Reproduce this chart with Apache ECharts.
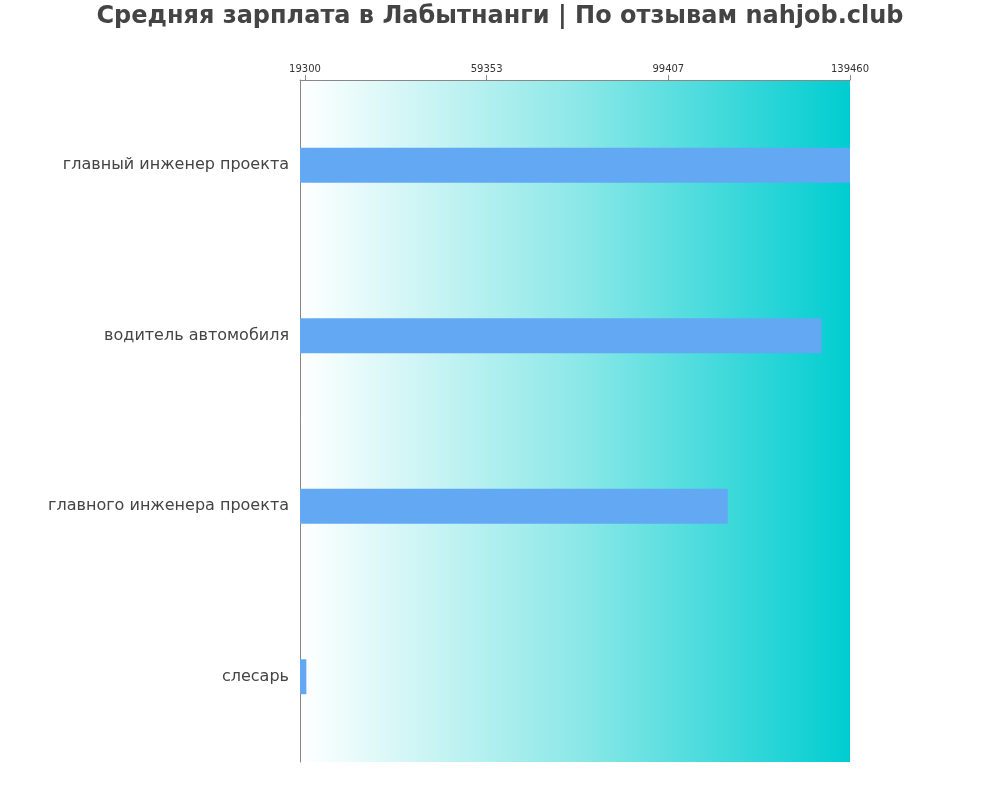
<!DOCTYPE html>
<html>
<head>
<meta charset="utf-8">
<script src="https://cdn.jsdelivr.net/npm/echarts@6/dist/echarts.min.js"></script>
<style>html,body{margin:0;padding:0;background:#fff;}#c{width:1000px;height:800px;}</style>
</head>
<body>
<div id="c"></div>
<script>
const titleText = 'Средняя зарплата в Лабытнанги | По отзывам nahjob.club';
const categories = ['главный инженер проекта', 'водитель автомобиля', 'главного инженера проекта', 'слесарь'];
const salaries = [139460, 133200, 112500, 19600];
const tickValues = [19300, 59353, 99407, 139460];
const axisMin = 18200;
const axisMax = 139460;

const chart = echarts.init(document.getElementById('c'));
chart.setOption({
  animation: false,
  backgroundColor: '#ffffff',
  title: {
    text: titleText,
    left: 'center',
    top: 0,
    textStyle: { fontFamily: '"DejaVu Sans"', fontWeight: 'bold', fontSize: 24, color: '#444444' }
  },
  grid: {
    left: 300, right: 150, top: 80, bottom: 38,
    show: true,
    borderWidth: 0,
    backgroundColor: new echarts.graphic.LinearGradient(0, 0, 1, 0, [
      { offset: 0, color: '#ffffff' },
      { offset: 0.5, color: '#8ee8e8' },
      { offset: 1, color: '#00cdd0' }
    ])
  },
  xAxis: {
    type: 'value',
    position: 'top',
    min: axisMin,
    max: axisMax,
    axisLine: { show: true, lineStyle: { color: '#888888', width: 1 } },
    axisTick: { show: true, length: 5, lineStyle: { color: '#888888' }, customValues: tickValues },
    axisLabel: { fontFamily: '"DejaVu Sans"', fontSize: 10, color: '#333333', margin: 6, customValues: tickValues, formatter: v => String(Math.round(v)) },
    splitLine: { show: false }
  },
  yAxis: {
    type: 'category',
    inverse: true,
    data: categories,
    axisLine: { show: true, lineStyle: { color: '#888888', width: 1 } },
    axisTick: { show: false },
    axisLabel: { fontFamily: '"DejaVu Sans"', fontSize: 16, color: '#444444', margin: 11, padding: [0, 0, 4, 0] }
  },
  series: [{
    type: 'bar',
    data: salaries,
    barWidth: 35,
    itemStyle: { color: '#62a8f3' }
  }]
});
</script>
</body>
</html>
